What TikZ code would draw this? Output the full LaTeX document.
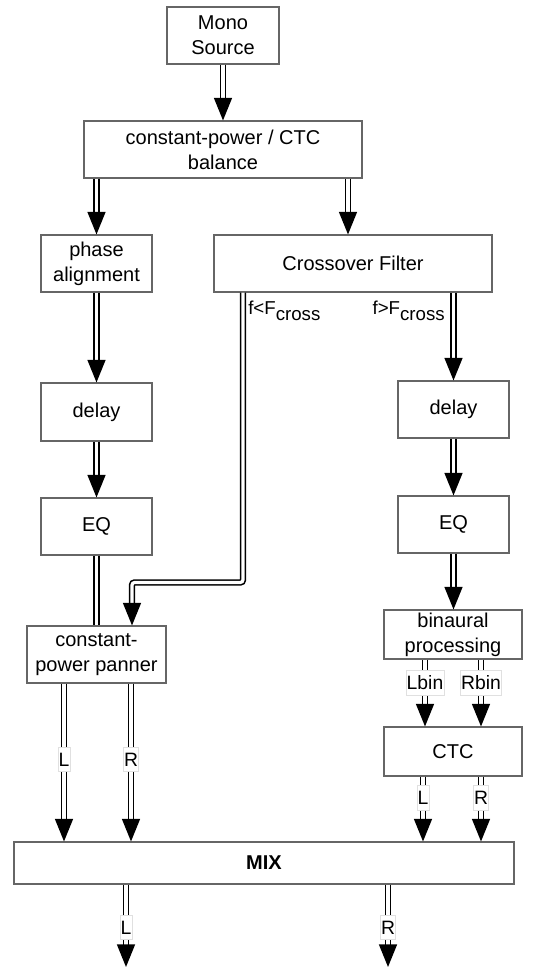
\documentclass[tikz,border=0pt]{standalone}
\usepackage{fontspec}
\setmainfont{Liberation Sans}
\usetikzlibrary{arrows.meta,calc}
\tikzstyle{block}=[draw=black!60,line width=0.8pt,align=center,inner sep=0pt,font=\fontsize{15}{18.75}\selectfont]
\tikzstyle{edge} = [draw,line width=1.2pt,double,double distance=2.4pt,-{Triangle[length=17pt,width=13.5pt]}]
\tikzstyle{wire} = [draw,line width=1.2pt,double,double distance=2.4pt]
\tikzstyle{weight} = [fill=white,draw=black!12,line width=0.4pt,inner xsep=0.5pt,inner ysep=1pt,text height=13.5pt,text depth=3pt,font=\fontsize{14.5}{17}\selectfont]
\tikzstyle{band} = [inner sep=0pt,font=\fontsize{14}{17}\selectfont]

\begin{document}
\begin{tikzpicture}[x=0.75pt,y=-0.75pt]
    \useasboundingbox (0,0) rectangle (539,967);

    \foreach \pos/ \name / \bw / \bh / \label in {
        {(223,35.5)/src/84pt/42.75pt/{Mono\\Source}},
        {(223,149.5)/bal/208.5pt/42.75pt/{constant-power / CTC\\balance}},
        {(96.5,263.5)/phase/83.25pt/42.75pt/{phase\\alignment}},
        {(353,263.5)/cross/208.5pt/42.75pt/{Crossover Filter}},
        {(96.5,412)/delayL/83.25pt/43.5pt/{delay}},
        {(96.5,526.5)/eqL/83.25pt/42.75pt/{EQ}},
        {(96.5,654.5)/pan/104.25pt/42.75pt/{constant-\\power panner}},
        {(453.5,409.5)/delayR/83.25pt/42.75pt/{delay}},
        {(453.5,524.5)/eqR/83.25pt/42.75pt/{EQ}},
        {(453,634.5)/bin/103.5pt/36.75pt/{binaural\\processing}},
        {(453,751.5)/ctc/103.5pt/36.75pt/{CTC}},
        {(264,863)/mix/375pt/31.5pt/{\textbf{MIX}}}}
        \node[block,minimum width=\bw,minimum height=\bh] (\name) at \pos {\label};

    \coordinate (balr) at ($(bal.south)+(125,0)$);
    \coordinate (lowin) at ($(pan.north)+(35.5,0)$);
    \coordinate (bottom) at (264,967);

    % Connect blocks with signal lines
    \foreach \source/ \dest in {src/bal,phase/delayL,delayL/eqL,delayR/eqR,eqR/bin}
        \draw[edge] (\source.south) -- (\source.south |- \dest.north);
    \draw[edge] (bal.south -| phase.north) -- (phase.north);
    \draw[edge] (balr) -- (balr |- cross.north);
    \draw[edge] (cross.south -| delayR.north) -- (delayR.north);
    \draw[wire] (eqL) -- (pan);
    \draw[edge,rounded corners=2pt] ($(cross.south)+(-110,0)$) |- ($(lowin)+(0,-43)$) -- (lowin);

    \node[band,anchor=north west] (lo) at ($(cross.south)+(-105,8)$) {f<F\raisebox{-0.35em}{cross}};
    \node[band,anchor=north east] (hi) at ($(cross.south)+(92,8)$) {f>F\raisebox{-0.35em}{cross}};

    % Left and right channels
    \foreach \src/ \dx / \dest / \lbl / \p / \nm in {
        pan/-32.5/mix.north/L/0.48/panl, pan/34.5/mix.north/R/0.48/panr,
        bin/-28/ctc.north/Lbin/0.35/binl, bin/28/ctc.north/Rbin/0.35/binr,
        ctc/-30/mix.north/L/0.33/ctcl, ctc/28/mix.north/R/0.33/ctcr,
        mix/-138/bottom/L/0.52/outl, mix/124/bottom/R/0.52/outr}
    {
        \coordinate (s\nm) at ($(\src.south)+(\dx,0)$);
        \draw[edge] (s\nm) -- node[weight,pos=\p] (\nm) {\lbl} (s\nm |- \dest);
    }
\end{tikzpicture}
\end{document}
